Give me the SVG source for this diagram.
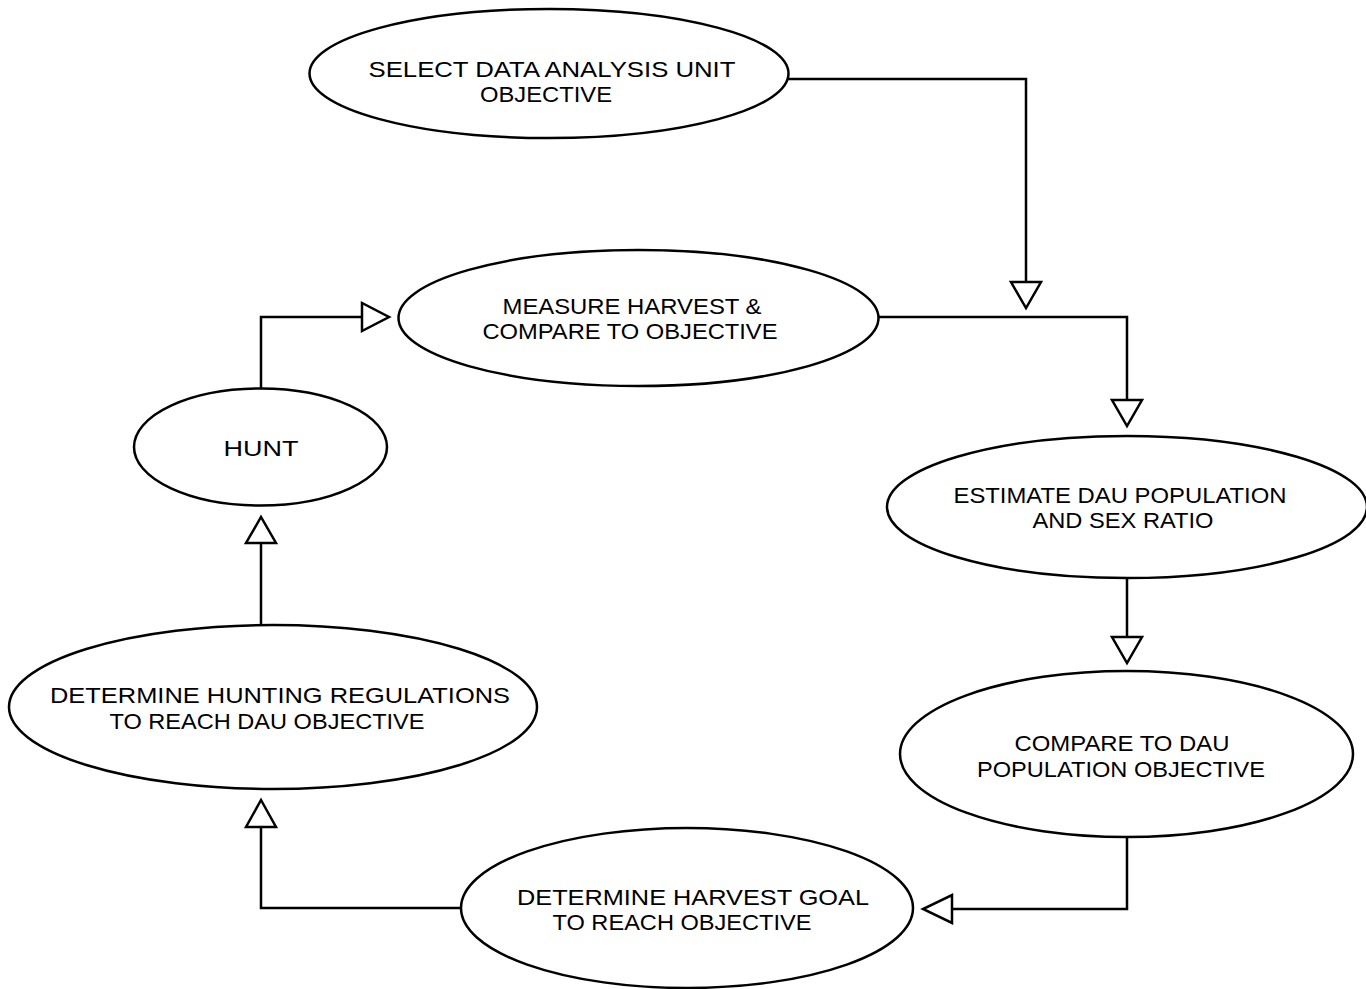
<svg xmlns="http://www.w3.org/2000/svg" width="1366" height="989" viewBox="0 0 1366 989">
<style>
.node ellipse{fill:#fff;stroke:#000;stroke-width:2.5}
.node text{font-family:"Liberation Sans",Arial,sans-serif;font-size:22px;fill:#000;text-anchor:middle}
.conn path{fill:none;stroke:#000;stroke-width:2.5}
.conn polygon{fill:#fff;stroke:#000;stroke-width:2.5;stroke-linejoin:miter}
</style>
<rect width="1366" height="989" fill="#fff"/>
<g id="connectors" class="conn">
<path d="M788,79 H1026 V282"/>
<polygon points="1011,282 1041,282 1026,308"/>
<path d="M878,317 H1127 V400"/>
<polygon points="1112,400 1142,400 1127,426"/>
<path d="M1127,578 V637"/>
<polygon points="1112,637 1142,637 1127,663"/>
<path d="M1127,837 V909 H952"/>
<polygon points="952,895 952,923 923,909"/>
<path d="M461,908 H261 V827"/>
<polygon points="246,827 276,827 261,800"/>
<path d="M261,625 V543"/>
<polygon points="246,543 276,543 261,517"/>
<path d="M261,388 V317 H362"/>
<polygon points="362,303 362,331 389,317"/>
</g>
<g id="select" class="node">
<ellipse cx="549" cy="73.5" rx="239.5" ry="64.5"/>
<text x="552" y="77" textLength="367" lengthAdjust="spacingAndGlyphs">SELECT DATA ANALYSIS UNIT</text>
<text x="546" y="102" textLength="132" lengthAdjust="spacingAndGlyphs">OBJECTIVE</text>
</g>
<g id="measure" class="node">
<ellipse cx="638.5" cy="318" rx="240" ry="68"/>
<text x="632" y="314" textLength="259" lengthAdjust="spacingAndGlyphs">MEASURE HARVEST &amp;</text>
<text x="630" y="339" textLength="295" lengthAdjust="spacingAndGlyphs">COMPARE TO OBJECTIVE</text>
</g>
<g id="estimate" class="node">
<ellipse cx="1127" cy="507" rx="240" ry="71"/>
<text x="1120" y="503" textLength="333" lengthAdjust="spacingAndGlyphs">ESTIMATE DAU POPULATION</text>
<text x="1123" y="528" textLength="181" lengthAdjust="spacingAndGlyphs">AND SEX RATIO</text>
</g>
<g id="compare" class="node">
<ellipse cx="1126.5" cy="754" rx="226.5" ry="83"/>
<text x="1122" y="751" textLength="215" lengthAdjust="spacingAndGlyphs">COMPARE TO DAU</text>
<text x="1121" y="777" textLength="288" lengthAdjust="spacingAndGlyphs">POPULATION OBJECTIVE</text>
</g>
<g id="harvest" class="node">
<ellipse cx="687" cy="908" rx="226" ry="80"/>
<text x="693" y="905" textLength="352" lengthAdjust="spacingAndGlyphs">DETERMINE HARVEST GOAL</text>
<text x="682" y="930" textLength="259" lengthAdjust="spacingAndGlyphs">TO REACH OBJECTIVE</text>
</g>
<g id="regulations" class="node">
<ellipse cx="273" cy="707" rx="264" ry="82"/>
<text x="280" y="703" textLength="460" lengthAdjust="spacingAndGlyphs">DETERMINE HUNTING REGULATIONS</text>
<text x="267" y="729" textLength="315" lengthAdjust="spacingAndGlyphs">TO REACH DAU OBJECTIVE</text>
</g>
<g id="hunt" class="node">
<ellipse cx="260.5" cy="447" rx="126.5" ry="58.5"/>
<text x="261" y="456" textLength="75" lengthAdjust="spacingAndGlyphs">HUNT</text>
</g>
</svg>
